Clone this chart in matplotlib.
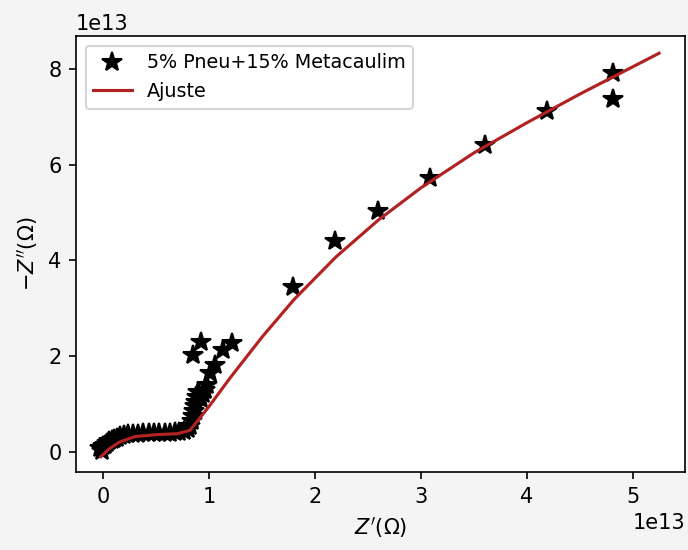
import matplotlib
matplotlib.use("Agg")
import matplotlib.pyplot as plt

# measured data (units of 1e13 Ohm)
x_data = [-0.03, -0.01, 0.0, 0.02, 0.04, 0.06, 0.08, 0.10, 0.13, 0.16, 0.20, 0.24,
          0.28, 0.33, 0.38, 0.43, 0.48, 0.53, 0.58, 0.63, 0.68, 0.72, 0.76, 0.80,
          0.82, 0.84, 0.85, 0.86, 0.87, 0.88, 0.89, 0.90, 0.92, 0.94, 0.96, 0.98,
          1.01, 1.06, 0.85, 0.92, 1.13, 1.22, 1.79, 2.19, 2.59, 3.08, 3.60, 4.19,
          4.81, 4.81]
y_data = [0.08, 0.02, 0.12, 0.15, 0.18, 0.22, 0.25, 0.28, 0.30, 0.33, 0.35, 0.37,
          0.38, 0.38, 0.39, 0.39, 0.39, 0.39, 0.40, 0.40, 0.41, 0.42, 0.44, 0.48,
          0.55, 0.65, 0.75, 0.85, 0.95, 1.05, 1.15, 1.25, 1.10, 1.20, 1.30, 1.40,
          1.65, 1.82, 2.03, 2.30, 2.13, 2.28, 3.44, 4.40, 5.03, 5.72, 6.41, 7.12,
          7.37, 7.91]

# fitted curve
x_fit = [-0.02, 0.05, 0.15, 0.30, 0.50, 0.70, 0.82, 1.00, 1.20, 1.50, 1.80, 2.20,
         2.60, 3.00, 3.50, 4.00, 4.50, 5.00, 5.245]
y_fit = [-0.10, 0.05, 0.20, 0.32, 0.36, 0.38, 0.45, 0.95, 1.55, 2.40, 3.18, 4.08,
         4.85, 5.52, 6.25, 6.88, 7.48, 8.05, 8.33]

scale = 1e13

fig = plt.figure(figsize=(6.89 / 1.5, 5.5 / 1.5), dpi=150, facecolor="#f4f4f4")
ax = fig.add_axes([0.1103, 0.1418, 0.8839, 0.7927])
ax.set_facecolor("white")

ax.plot([v * scale for v in x_data], [v * scale for v in y_data], linestyle="none",
        marker="*", color="black", markersize=10, label="5% Pneu+15% Metacaulim")
ax.plot([v * scale for v in x_fit], [v * scale for v in y_fit], color="#b22222",
        linewidth=1.5, label="Ajuste")

ax.set_xlim(-0.255 * scale, 5.49 * scale)
ax.set_ylim(-0.42 * scale, 8.69 * scale)
ax.set_xlabel(r"$Z'(\Omega)$")
ax.set_ylabel(r"$-Z''(\Omega)$")
ax.legend(loc="upper left", fontsize=9.2)

fig.savefig("out.png", dpi=150, facecolor=fig.get_facecolor())
